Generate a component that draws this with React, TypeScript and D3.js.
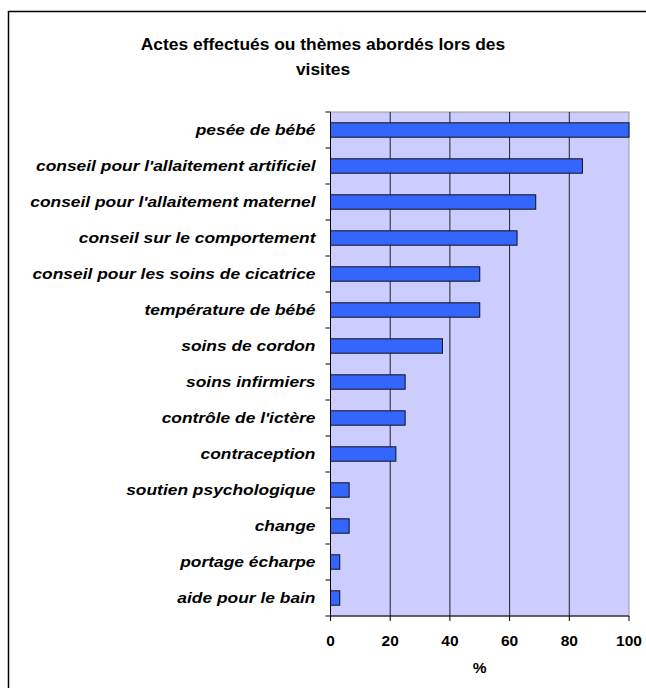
import React from "react";
import * as d3 from "d3";

const categories = [
  "pesée de bébé",
  "conseil pour l'allaitement artificiel",
  "conseil pour l'allaitement maternel",
  "conseil sur le comportement",
  "conseil pour les soins de cicatrice",
  "température de bébé",
  "soins de cordon",
  "soins infirmiers",
  "contrôle de l'ictère",
  "contraception",
  "soutien psychologique",
  "change",
  "portage écharpe",
  "aide pour le bain",
];
const values = [100, 84.4, 68.75, 62.5, 50, 50, 37.5, 25, 25, 21.9, 6.25, 6.25, 3.1, 3.1];
const xTicks = [0, 20, 40, 60, 80, 100];
const titleLines = ["Actes effectués ou thèmes abordés lors des", "visites"];
const xAxisTitle = "%";

export default function App() {
  const W = 646, H = 688;
  const left = 330.5, right = 629, top = 112, bottom = 616;
  const x = d3.scaleLinear().domain([0, 100]).range([left, right]);
  const y = d3.scaleBand().domain(categories).range([top, bottom]).paddingInner(0.6).paddingOuter(0.3);
  const band = (bottom - top) / categories.length;
  const font = "Arial, 'Liberation Sans', sans-serif";
  return (
    <svg width={W} height={H} style={{ position: "absolute", left: 0, top: 0 }} fontFamily={font}>
      <rect x={0} y={0} width={W} height={H} fill="#fff" />
      <path d={`M8.5,${H} V11.5 H${W}`} fill="none" stroke="#000" strokeWidth={1.5} />
      {titleLines.map((t, i) => (
        <text key={i} x={323} y={49.5 + i * 25} textAnchor="middle" fontWeight="bold" fontSize={17.4} fill="#000">{t}</text>
      ))}
      <rect x={left} y={top} width={right - left} height={bottom - top} fill="#CCCCFF" stroke="#999" strokeWidth={1} />
      {xTicks.slice(1, -1).map((t) => (
        <line key={t} x1={x(t)} x2={x(t)} y1={top} y2={bottom} stroke="#222" strokeWidth={1} />
      ))}
      {categories.map((c, i) => (
        <rect key={c} x={x(0)} y={y(c)!} width={x(values[i]) - x(0)} height={y.bandwidth()} fill="#3366FF" stroke="#111" strokeWidth={1} />
      ))}
      <line x1={left} x2={left} y1={top} y2={bottom} stroke="#000" />
      <line x1={left} x2={right} y1={bottom} y2={bottom} stroke="#000" />
      {d3.range(categories.length + 1).map((i) => (
        <line key={i} x1={left - 5} x2={left} y1={top + i * band} y2={top + i * band} stroke="#000" />
      ))}
      {xTicks.map((t) => (
        <g key={t}>
          <line x1={x(t)} x2={x(t)} y1={bottom} y2={bottom + 5} stroke="#000" />
          <text x={x(t)} y={646} textAnchor="middle" fontWeight="bold" fontSize={15.5} fill="#000">{t}</text>
        </g>
      ))}
      <text x={(left + right) / 2} y={673} textAnchor="middle" fontWeight="bold" fontSize={15.5} fill="#000">{xAxisTitle}</text>
      {categories.map((c) => (
        <text key={c} transform={`translate(315.5,${y(c)! + y.bandwidth() / 2 + 5}) scale(1.2,1)`} textAnchor="end" fontWeight="bold" fontStyle="italic" fontSize={14.5} fill="#000">{c}</text>
      ))}
    </svg>
  );
}
